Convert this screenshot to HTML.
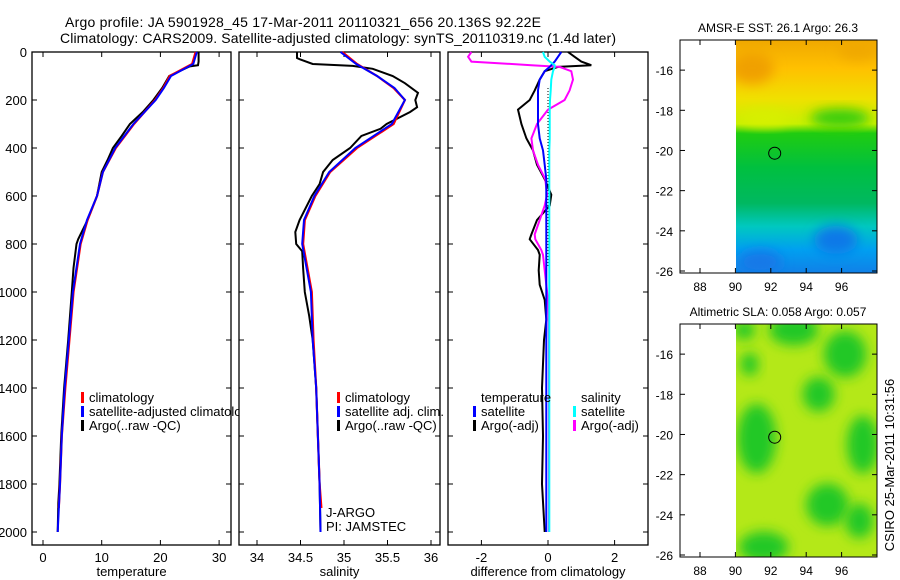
<!DOCTYPE html>
<html><head><meta charset="utf-8"><style>
html,body{margin:0;padding:0;background:#fff;}
svg{display:block;font-family:"Liberation Sans",sans-serif;}
</style></head><body>
<svg id="chart" width="900" height="580" viewBox="0 0 900 580">
<defs>
<linearGradient id="sstGrad" x1="0" y1="0" x2="0" y2="1">
<stop offset="0" stop-color="#f0a800"/><stop offset="0.12" stop-color="#ffc000"/>
<stop offset="0.25" stop-color="#f0e000"/><stop offset="0.36" stop-color="#c8f000"/>
<stop offset="0.40" stop-color="#20cc10"/><stop offset="0.55" stop-color="#00c040"/>
<stop offset="0.7" stop-color="#00b860"/><stop offset="0.8" stop-color="#00c8c0"/>
<stop offset="0.9" stop-color="#00a0f0"/><stop offset="1" stop-color="#1080e8"/></linearGradient>
<filter id="blur" x="-50%" y="-50%" width="200%" height="200%"><feGaussianBlur stdDeviation="6"/></filter>
<clipPath id="clip1"><rect x="736" y="40" width="141" height="233"/></clipPath>
<clipPath id="clip2"><rect x="736" y="324" width="141" height="233"/></clipPath>
<clipPath id="clipLeg"><rect x="0" y="380" width="239" height="60"/></clipPath>
</defs>
<text x="303" y="27" text-anchor="middle" font-size="14" textLength="476">Argo profile: JA 5901928_45 17-Mar-2011 20110321_656 20.136S 92.22E</text>
<text x="338" y="43" text-anchor="middle" font-size="14" textLength="556">Climatology: CARS2009. Satellite-adjusted climatology: synTS_20110319.nc (1.4d later)</text>
<g id="g"></g>
</svg>
<script>
// ---------- data ----------
const depthTicks=[0,200,400,600,800,1000,1200,1400,1600,1800,2000];
const tempTicks=[0,10,20,30];
const salTicks=[34,34.5,35,35.5,36];
const salTickLabels=["34","34.5","35","35.5","36"];
const diffTicks=[-2,0,2];
const lonTicks=[88,90,92,94,96];
const latTicks=[-16,-18,-20,-22,-24,-26];

const climDepth=[0,50,100,150,200,300,400,500,600,700,800,1000,1200,1400,1600,1800,1900];
const tempClim=[26.0,25.4,21.6,20.5,19.1,15.5,12.4,10.2,9.2,7.6,6.4,5.2,4.5,3.8,3.2,2.9,2.7];
const satDepth=[0,50,100,150,200,300,400,500,600,700,800,1000,1200,1400,1600,1800,2000];
const tempSat=[26.2,25.6,21.8,20.6,19.2,15.4,12.3,10.2,9.2,7.5,6.3,5.1,4.4,3.7,3.2,2.9,2.5];
const argoDepth=[0,40,55,60,100,150,200,250,300,350,400,450,500,600,700,780,800,900,1000,1200,1400,1600,1800,1880,2000];
const tempArgo=[26.5,26.5,26.4,25.0,21.5,20.3,18.8,17.0,14.8,13.4,11.9,11.0,10.0,9.2,7.6,6.0,5.7,5.2,4.9,4.3,3.6,3.1,2.8,2.6,2.5];

const salClim=[34.98,35.15,35.38,35.57,35.70,35.57,35.15,34.84,34.67,34.55,34.53,34.63,34.65,34.68,34.70,34.72,34.74];
const salSat=[34.96,35.14,35.38,35.58,35.70,35.55,35.13,34.83,34.66,34.54,34.52,34.62,34.64,34.68,34.70,34.72,34.73];
const salArgoDepth=[0,25,30,50,58,70,100,130,170,200,230,250,300,320,350,400,450,500,550,600,700,750,800,830,900,1000,1100,1200,1400,1600,1800,2000];
const salArgo=[34.46,34.46,34.49,34.64,35.10,35.33,35.56,35.70,35.85,35.82,35.84,35.76,35.49,35.42,35.20,35.07,34.87,34.76,34.72,34.63,34.49,34.44,34.45,34.52,34.53,34.55,34.60,34.64,34.68,34.70,34.72,34.73];

const diffDepth=[0,20,40,55,62,80,115,160,200,240,300,360,410,470,530,595,640,700,760,780,825,845,910,970,1033,1115,1200,1400,1600,1800,2000];
const dTempSat=[0.4,0.3,0.2,0.1,0.05,-0.1,-0.25,-0.3,-0.3,-0.3,-0.3,-0.25,-0.15,-0.1,-0.05,-0.05,-0.05,-0.05,-0.05,-0.05,-0.05,-0.05,-0.05,-0.05,-0.05,-0.05,-0.05,-0.05,-0.05,-0.05,-0.05];
const dSalSat=[-0.15,-0.1,0.05,0.2,0.2,0.15,0.1,0.08,0.06,0.05,0.05,0.05,0.04,0.04,0.04,0.04,0.04,0.04,0.04,0.04,0.04,0.04,0.04,0.04,0.04,0.04,0.04,0.04,0.04,0.04,0.04];
const dTempArgo=[0.6,0.8,1.0,1.3,0.3,-0.1,-0.25,-0.4,-0.55,-0.9,-0.8,-0.65,-0.45,-0.33,-0.1,0.1,0.05,-0.33,-0.5,-0.55,-0.3,-0.25,-0.28,-0.25,-0.1,-0.05,-0.12,-0.18,-0.15,-0.18,-0.1];
const dSalArgo=[-2.3,-2.4,-2.3,-0.5,0.35,0.7,0.75,0.65,0.5,0.0,-0.33,-0.5,-0.45,-0.3,-0.08,-0.03,-0.1,-0.25,-0.4,-0.38,-0.2,-0.15,-0.1,-0.05,0.0,0.02,0.03,0.03,0.03,0.03,0.03];

const argoLon=92.22, argoLat=-20.136;
const slaBlobLon=[93.3,96.2,94.7,91.2,97.2,95.2,97.0,91.6,90.8,90.5];
const slaBlobLat=[-14.8,-16.0,-18.0,-20.2,-20.5,-23.5,-24.3,-25.6,-16.5,-14.8];
const slaBlobRx=[1.4,1.2,0.9,1.1,0.9,1.2,0.8,1.4,0.5,0.6];
const slaBlobRy=[0.8,1.2,0.9,1.8,1.5,1.1,0.9,0.8,0.6,0.5];

// ---------- helpers ----------
const NS="http://www.w3.org/2000/svg";
const G=document.getElementById('g');
function mk(tag,attrs,parent){const e=document.createElementNS(NS,tag);for(const k in attrs)e.setAttribute(k,attrs[k]);(parent||G).appendChild(e);return e;}
function txt(x,y,s,anchor,size,parent){const t=mk('text',{x:x,y:y,'text-anchor':anchor||'middle','font-size':size||13},parent);t.textContent=s;return t;}

const yTop=52, yBot=532;
const yD=d=>yTop+(yBot-yTop)*d/2000;
const xT=v=>43+5.87*v;
const xS=v=>257+87*(v-34);
const xDf=v=>548+33.3*v;

function panel(x0,x1,name){
  const r=mk('rect',{x:x0,y:yTop,width:x1-x0,height:545-yTop,fill:'none',stroke:'#000','stroke-width':1.3});
  
  
}
function line(xs,ds,xf,color,w,name,dash){
  let p='';for(let i=0;i<xs.length;i++)p+=(i?'L':'M')+xf(xs[i]).toFixed(1)+','+yD(ds[i]).toFixed(1);
  const e=mk('path',{d:p,fill:'none',stroke:color,'stroke-width':w});
  if(dash)e.setAttribute('stroke-dasharray',dash);
  
  
}
function xticks(ticks,labels,xf,x0,x1,title,tname){
  ticks.forEach((t,i)=>{const x=xf(t);
    mk('line',{x1:x,x2:x,y1:545,y2:540,stroke:'#000'});mk('line',{x1:x,x2:x,y1:yTop,y2:yTop+5,stroke:'#000'});
    const l=txt(x,562,labels[i]);});
  const t=txt((x0+x1)/2,576,title);
}
function yticks(x0,x1){depthTicks.forEach(d=>{const y=yD(d);
  mk('line',{x1:x0,x2:x0+5,y1:y,y2:y,stroke:'#000'});mk('line',{x1:x1,x2:x1-5,y1:y,y2:y,stroke:'#000'});});}
function legend(x,y,color,label,parent){
  const b=mk('rect',{x:x,y:y-10,width:3,height:11,fill:color},parent);
  
  const t=txt(x+8,y,label,'start',13,parent);
}

// ---------- panel 1 temperature ----------
panel(32,231,'temperature-panel');yticks(32,231);
depthTicks.forEach(d=>{const l=txt(27,yD(d)+5,String(d),'end');});
xticks(tempTicks,tempTicks.map(String),xT,32,231,'temperature','x-axis-title-temperature');
line(tempArgo,argoDepth,xT,'#000',2,'temp-argo-line');
line(tempClim,climDepth,xT,'#f00',2.2,'temp-climatology-line');
line(tempSat,satDepth,xT,'#00f',2,'temp-satellite-line');
const leg1=mk('g',{'clip-path':'url(#clipLeg)'});
legend(81,402,'#f00','climatology',leg1);legend(81,416,'#00f','satellite-adjusted climatology',leg1);legend(81,430,'#000','Argo(..raw -QC)',leg1);

// ---------- panel 2 salinity ----------
panel(239,440,'salinity-panel');yticks(239,440);
xticks(salTicks,salTickLabels,xS,239,440,'salinity','x-axis-title-salinity');
line(salArgo,salArgoDepth,xS,'#000',2,'salinity-argo-line');
line(salClim,climDepth,xS,'#f00',2.2,'salinity-climatology-line');
line(salSat,satDepth,xS,'#00f',2,'salinity-satellite-line');
legend(337,402,'#f00','climatology');legend(337,416,'#00f','satellite adj. clim.');legend(337,430,'#000','Argo(..raw -QC)');
let t=txt(326,517,'J-ARGO','start');
t=txt(326,531,'PI: JAMSTEC','start');

// ---------- panel 3 differences ----------
panel(448,648,'difference-panel');yticks(448,648);
xticks(diffTicks,diffTicks.map(String),xDf,448,648,'difference from climatology','x-axis-title-difference');
mk('line',{x1:xDf(0),x2:xDf(0),y1:yD(150),y2:yD(900),stroke:'#000','stroke-dasharray':'1,2'});
line(dTempArgo,diffDepth,xDf,'#000',2,'temp-diff-argo-line');
line(dSalArgo,diffDepth,xDf,'#f0f',2,'salinity-diff-argo-line');
line(dTempSat,diffDepth,xDf,'#00f',2,'temp-diff-satellite-line');
line(dSalSat,diffDepth,xDf,'#0ff',2,'salinity-diff-satellite-line');
t=txt(481,402,'temperature','start');
t=txt(581,402,'salinity','start');
legend(473,416,'#00f','satellite');legend(473,430,'#000','Argo(-adj)');
legend(573,416,'#0ff','satellite');legend(573,430,'#f0f','Argo(-adj)');

// ---------- maps ----------
const xL=v=>700+17.7*(v-88);
function mapAxes(top,bot,latTop,title,name){
  const yL=v=>top+(bot-top)*(latTop-v)/(latTop+26.1);
  const fr=mk('rect',{x:680,y:top,width:197,height:bot-top,fill:'none',stroke:'#000'});
  
  latTicks.forEach(v=>{const y=yL(v);mk('line',{x1:680,x2:685,y1:y,y2:y,stroke:'#000'});mk('line',{x1:877,x2:872,y1:y,y2:y,stroke:'#000'});
    const l=txt(673,y+5,String(v),'end',12);});
  lonTicks.forEach(v=>{const x=xL(v);mk('line',{x1:x,x2:x,y1:bot,y2:bot-5,stroke:'#000'});mk('line',{x1:x,x2:x,y1:top,y2:top+5,stroke:'#000'});
    const l=txt(x,bot+18,String(v),'middle',12);});
  const tt=txt(778,top-8,title,'middle',12);
  const c=mk('circle',{cx:xL(argoLon),cy:yL(argoLat),r:6,fill:'none',stroke:'#000'});
  
  return yL;
}
// map 1 SST
const sst=mk('g',{'clip-path':'url(#clip1)'});
mk('rect',{x:736,y:40,width:141,height:233,fill:'url(#sstGrad)'},sst);
mk('ellipse',{cx:752,cy:68,rx:22,ry:16,fill:'#f0a000',filter:'url(#blur)'},sst);
mk('ellipse',{cx:858,cy:50,rx:20,ry:10,fill:'#f0a800',filter:'url(#blur)'},sst);
mk('ellipse',{cx:840,cy:118,rx:30,ry:9,fill:'#30cc10',filter:'url(#blur)'},sst);
mk('ellipse',{cx:765,cy:118,rx:25,ry:8,fill:'#d8f000',filter:'url(#blur)'},sst);
mk('ellipse',{cx:836,cy:240,rx:22,ry:14,fill:'#1078e8',filter:'url(#blur)'},sst);
mk('ellipse',{cx:760,cy:262,rx:22,ry:12,fill:'#1878e8',filter:'url(#blur)'},sst);
mapAxes(40,273,-14.5,'AMSR-E SST: 26.1  Argo: 26.3','sst-map');
// map 2 SLA
const sla=mk('g',{'clip-path':'url(#clip2)'});
mk('rect',{x:736,y:324,width:141,height:233,fill:'#b4e818'},sla);
const y2=v=>324+233*(-14.5-v)/(-14.5+26.1);
slaBlobLon.forEach((lo,i)=>{
  const e=mk('ellipse',{cx:xL(lo),cy:y2(slaBlobLat[i]),rx:17.7*slaBlobRx[i],ry:19.3*slaBlobRy[i],fill:'#20c828',filter:'url(#blur)'},sla);
  
  
});
mapAxes(324,557,-14.5,'Altimetric SLA: 0.058  Argo: 0.057','sla-map');
const rt=txt(0,0,'CSIRO 25-Mar-2011 10:31:56','middle',13);
rt.setAttribute('transform','translate(894,465) rotate(-90)');


</script>
</body></html>
